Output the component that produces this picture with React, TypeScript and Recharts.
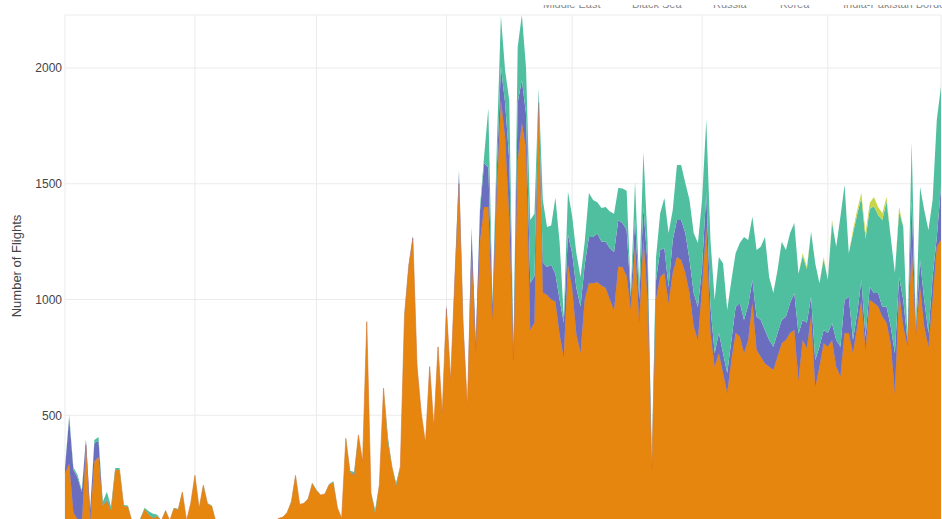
import React from 'react';
import { AreaChart, Area, XAxis, YAxis, CartesianGrid } from 'recharts';

// daily counts, Jan 1 = day 0
const monthStarts = [0, 31, 60, 91, 121, 152, 182];
const monthLabels = ['Jan 2024', 'Feb', 'Mar', 'Apr', 'May', 'Jun', 'Jul'];
const yTicks = [0, 500, 1000, 1500, 2000];

const middleEast = [
  250, 290, 80, 50, 20, 370, 40, 300, 320, 110,
  130, 90, 262, 265, 108, 105, 40, 38, 52, 95,
  70, 55, 65, 45, 88, 45, 98, 92, 168, 45,
  120, 240, 98, 198, 118, 108, 40, 25, 30, 20,
  35, 25, 30, 20, 25, 30, 20, 25, 35, 30,
  40, 55, 60, 80, 125, 240, 115, 120, 138, 205,
  175, 155, 160, 200, 210, 100, 55, 400, 255, 240,
  415, 300, 904, 165, 75, 200, 617, 390, 278, 195,
  278, 930, 1142, 1265, 710, 510, 380, 710, 450, 795,
  510, 960, 652, 1080, 1500, 880, 536, 1200, 780, 1250,
  1400, 1400, 920, 1450, 1862, 1700, 1350, 740, 1600, 1762,
  1650, 868, 900, 1850, 1030, 1020, 1000, 990, 850, 750,
  1150, 1050, 850, 770, 1000, 1070, 1070, 1075, 1060, 1050,
  1000, 955, 1142, 1140, 1100, 960, 1230, 900, 1260, 1000,
  270, 1000, 1097, 1114, 985, 1114, 1184, 1171, 1114, 1028,
  883, 825, 1054, 1313, 855, 710, 768, 682, 596, 739,
  855, 840, 768, 825, 985, 782, 753, 724, 710, 696,
  753, 811, 825, 855, 868, 652, 825, 790, 925, 622,
  710, 811, 796, 825, 710, 667, 855, 855, 768, 883,
  998, 782, 998, 985, 970, 926, 900, 811, 596, 1028,
  883, 800, 1228, 850, 1054, 883, 796, 1000, 1228, 1257
];

const blackSea = [
  20, 200, 185, 180, 150, 25, 50, 80, 70, 0,
  5, 0, 0, 0, 0, 0, 0, 0, 0, 0,
  0, 0, 0, 0, 0, 0, 0, 0, 0, 0,
  0, 0, 0, 0, 0, 0, 0, 0, 0, 0,
  0, 0, 0, 0, 0, 0, 0, 0, 0, 0,
  0, 0, 0, 0, 0, 0, 0, 0, 0, 0,
  0, 0, 0, 0, 0, 0, 0, 0, 0, 5,
  0, 0, 6, 0, 0, 0, 0, 0, 0, 0,
  0, 5, 8, 10, 5, 0, 0, 5, 0, 6,
  0, 16, 0, 20, 50, 20, 0, 100, 32, 130,
  190, 170, 50, 100, 143, 150, 250, 30, 250, 186,
  150, 203, 200, 40, 130, 120, 150, 120, 150, 150,
  130, 150, 200, 200, 150, 200, 200, 210, 190, 200,
  220, 250, 200, 190, 200, 50, 120, 100, 140, 150,
  5, 80, 117, 108, 69, 143, 159, 172, 173, 143,
  145, 143, 88, 147, 113, 58, 87, 86, 86, 86,
  113, 145, 143, 150, 99, 143, 158, 144, 115, 100,
  102, 100, 100, 130, 160, 200, 86, 110, 87, 117,
  86, 57, 59, 72, 115, 129, 143, 157, 57, 57,
  86, 56, 56, 43, 58, 42, 70, 72, 172, 69,
  115, 20, 200, 20, 117, 115, 59, 97, 42, 229
];

const russia = [
  5, 10, 10, 12, 7, 5, 0, 13, 16, 15,
  35, 14, 10, 7, 4, 5, 0, 2, 3, 5,
  15, 20, 5, 0, 2, 0, 2, 3, 2, 0,
  0, 2, 2, 2, 2, 2, 0, 0, 0, 0,
  0, 0, 0, 0, 0, 0, 0, 0, 0, 0,
  0, 0, 0, 0, 3, 2, 0, 0, 2, 2,
  2, 0, 0, 2, 5, 0, 0, 2, 5, 10,
  0, 0, 0, 0, 15, 0, 0, 20, 0, 12,
  0, 5, 0, 0, 0, 0, 0, 0, 0, 0,
  0, 0, 0, 0, 10, 0, 0, 13, 0, 20,
  30, 256, 14, 100, 220, 140, 260, 4, 240, 281,
  200, 272, 270, 23, 270, 173, 170, 330, 250, 25,
  185, 160, 150, 127, 100, 190, 160, 135, 145, 150,
  160, 165, 140, 150, 170, 20, 160, 60, 237, 100,
  5, 100, 159, 216, 233, 130, 238, 238, 216, 259,
  259, 276, 288, 316, 289, 230, 329, 388, 273, 259,
  232, 259, 359, 282, 273, 289, 317, 402, 272, 232,
  273, 339, 289, 302, 302, 259, 277, 232, 281, 417,
  274, 306, 229, 436, 403, 561, 497, 188, 460, 427,
  356, 424, 338, 375, 337, 375, 453, 387, 346, 283,
  315, 18, 252, 13, 315, 389, 445, 333, 506, 434
];

const korea = [
  0, 0, 0, 0, 0, 0, 0, 0, 0, 0,
  0, 0, 0, 0, 0, 0, 0, 0, 0, 0,
  0, 0, 0, 0, 0, 0, 0, 0, 0, 0,
  0, 0, 0, 0, 0, 0, 0, 0, 0, 0,
  0, 0, 0, 0, 0, 0, 0, 0, 0, 0,
  0, 0, 0, 0, 0, 0, 0, 0, 0, 0,
  0, 0, 0, 0, 0, 0, 0, 0, 0, 0,
  0, 0, 0, 0, 0, 0, 0, 0, 0, 0,
  0, 0, 0, 0, 0, 0, 0, 0, 0, 0,
  0, 0, 0, 0, 0, 0, 0, 0, 0, 0,
  0, 0, 0, 0, 0, 0, 0, 0, 0, 0,
  0, 0, 0, 0, 0, 0, 0, 0, 0, 0,
  0, 0, 0, 0, 0, 0, 0, 0, 0, 0,
  0, 0, 0, 0, 0, 0, 0, 0, 0, 0,
  0, 0, 0, 0, 0, 0, 0, 0, 0, 0,
  0, 0, 0, 0, 0, 0, 0, 0, 0, 0,
  0, 0, 0, 0, 0, 0, 0, 0, 0, 0,
  0, 0, 0, 0, 0, 0, 12, 10, 0, 0,
  0, 10, 0, 10, 0, 0, 0, 0, 15, 20,
  20, 25, 25, 40, 35, 30, 20, 0, 0, 20,
  0, 0, 0, 0, 0, 0, 0, 0, 0, 0
];

const series = [
  { key: 'middleEast', name: 'Middle East', color: '#E6860F', edge: '#D8762A', values: middleEast },
  { key: 'blackSea', name: 'Black Sea', color: '#6B6DBF', edge: 'none', values: blackSea },
  { key: 'russia', name: 'Russia', color: '#50BFA0', edge: 'none', values: russia },
  { key: 'korea', name: 'Korea', color: '#C9D548', edge: 'none', values: korea }
];

const legendItems = [
  { name: 'Middle East', color: '#E6860F', left: 543 },
  { name: 'Black Sea', color: '#6B6DBF', left: 632 },
  { name: 'Russia', color: '#50BFA0', left: 713 },
  { name: 'Korea', color: '#C9D548', left: 780 },
  { name: 'India-Pakistan Border', color: '#E377C2', left: 843 }
];

const data = middleEast.map((_, i) => {
  const row: Record<string, number> = { day: i };
  series.forEach(s => { row[s.key] = s.values[i]; });
  return row;
});

const font = '"Liberation Sans", Arial, sans-serif';

export default function App() {
  return (
    <div style={{ position: 'absolute', left: 0, top: 0, width: 942, height: 519, overflow: 'hidden', background: '#fff', fontFamily: font }}>
      <AreaChart
        width={1000}
        height={580}
        data={data}
        margin={{ top: 15, right: 59, bottom: 19, left: 0 }}
      >
        <CartesianGrid stroke="#ebebeb" strokeWidth={1} />
        <XAxis
          dataKey="day"
          type="number"
          domain={[0, 209]}
          ticks={monthStarts}
          tickFormatter={(v: number) => monthLabels[monthStarts.indexOf(v)] ?? ''}
          axisLine={false}
          tickLine={false}
          tick={{ fontSize: 12, fill: '#444', fontFamily: font }}
        />
        <YAxis
          width={65}
          domain={[0, 2229]}
          ticks={yTicks}
          axisLine={false}
          tickLine={false}
          tickSize={0}
          tickMargin={3}
          tick={{ fontSize: 12, fill: '#444', fontFamily: font }}
        />
        {series.map(s => (
          <Area
            key={s.key}
            type="linear"
            dataKey={s.key}
            name={s.name}
            stackId="flights"
            stroke={s.edge}
            strokeWidth={0.6}
            fill={s.color}
            fillOpacity={1}
            isAnimationActive={false}
          />
        ))}
      </AreaChart>

      <div style={{
        position: 'absolute', left: 16, top: 266, transform: 'translate(-50%, -50%) rotate(-90deg)',
        fontSize: 13, color: '#444', whiteSpace: 'nowrap'
      }}>
        Number of Flights
      </div>

      {legendItems.map(item => (
        <div key={item.name} style={{ position: 'absolute', left: item.left - 38, top: -3, height: 14, display: 'flex', alignItems: 'center', whiteSpace: 'nowrap' }}>
          <span style={{ display: 'inline-block', width: 30, height: 2, background: item.color, opacity: 0.3, marginRight: 8 }} />
          <span style={{ fontSize: 11, lineHeight: '14px', color: '#888' }}>{item.name}</span>
        </div>
      ))}
      <div style={{ position: 'absolute', left: 0, top: 0, width: 942, height: 5, background: '#fff' }} />
    </div>
  );
}
